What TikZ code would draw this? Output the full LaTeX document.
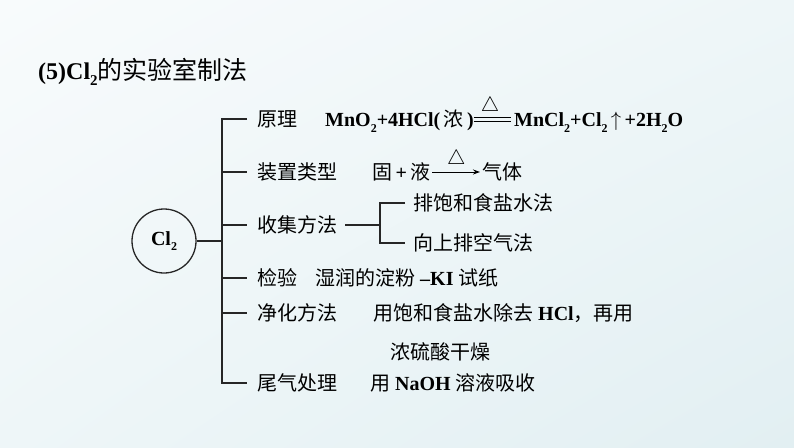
\documentclass[tikz,border=0pt]{standalone}
\usepackage{fontspec}
\setmainfont{Liberation Serif}
\newfontfamily\cjk{Noto Sans CJK SC}
\usetikzlibrary{arrows.meta,shadings}
\def\zh#1{{\cjk\mdseries #1}}
\def\sub#1{\raisebox{-0.28em}{\fontsize{12}{12}\selectfont #1}}
\definecolor{bgA}{RGB}{248,251,252}
\definecolor{bgB}{RGB}{238,246,248}
\definecolor{bgC}{RGB}{226,239,242}

\begin{document}
\begin{tikzpicture}[x=1pt, y=-1pt,
  line/.style={line width=1.3pt, draw=black!85},
  lbl/.style={anchor=west, inner sep=0pt, text height=17pt, text depth=2pt,
    font=\fontsize{20}{24}\selectfont\bfseries}]
		%%%%% START %%%%%
		
		\useasboundingbox (0,0) rectangle (794,447);
		\shade[upper left=bgA, upper right=bgB, lower left=bgB, lower right=bgC] (0,0) rectangle (794,447);
		
		\node[anchor=west, inner sep=0pt, font=\fontsize{24}{28}\selectfont\bfseries] (title) at (38,72)
			{(5)Cl\raisebox{-0.25em}{\fontsize{15}{15}\selectfont 2}\zh{\fontsize{25}{28}\selectfont 的实验室制法}};
		
		\node[circle, line, minimum size=64pt, inner sep=0pt, font=\fontsize{20}{24}\selectfont\bfseries] (cl) at (164,241) {Cl\sub{2}};
		\coordinate (spine) at (222,0);
		
		% principle
		\node[lbl] (yl) at (257,119) {\zh{原理}};
		\node[lbl] (eqL) at (325,119) {MnO\sub{2}+4HCl(\,\zh{浓}\,)};
		\node[lbl] (eqR) at (514,119) {MnCl\sub{2}+Cl\sub{2}\,$\uparrow$\,+2H\sub{2}O};
		\draw[line width=1pt, shorten >=3pt] ([yshift=2pt]eqL.east) -- ([yshift=2pt]eqR.west);
		\draw[line width=1pt, shorten >=3pt] ([yshift=-2pt]eqL.east) -- ([yshift=-2pt]eqR.west);
		\node[inner sep=0pt, font=\fontsize{20}{22}\selectfont] (heatA) at (490,106) {$\triangle$};
		
		% apparatus
		\node[lbl] (zz) at (257,172) {\zh{装置类型}};
		\node[lbl] (gy) at (372,172) {\zh{固}\,+\,\zh{液}};
		\node[lbl] (qt) at (482,172) {\zh{气体}};
		\draw[line width=1pt, -{Stealth[length=7pt, width=5pt]}] ([xshift=2pt]gy.east) -- ([xshift=-2pt]qt.west)
			node[midway, above=3pt, inner sep=0pt, font=\fontsize{20}{22}\selectfont] (heatB) {$\triangle$};
		
		% collection
		\node[lbl] (sj) at (257,225) {\zh{收集方法}};
		\coordinate (fork) at (380,225);
		\node[lbl] (pb) at (413,203) {\zh{排饱和食盐水法}};
		\node[lbl] (xs) at (413,243) {\zh{向上排空气法}};
		\draw[line] ([xshift=8pt]sj.east) -- (fork);
		\draw[line] ([xshift=-8pt]pb.west) -| (fork) |- ([xshift=-8pt]xs.west);
		
		% test
		\node[lbl] (jy) at (257,278) {\zh{检验}};
		\node[lbl] (sr) at (315,278) {\zh{湿润的淀粉} --KI \zh{试纸}};
		
		% purification
		\node[lbl] (jh) at (257,313) {\zh{净化方法}};
		\node[lbl] (jhA) at (373,313) {\zh{用饱和食盐水除去} HCl\zh{，再用}};
		\node[lbl] (jhB) at (390,352) {\zh{浓硫酸干燥}};
		
		% tail gas
		\node[lbl] (wq) at (257,383) {\zh{尾气处理}};
		\node[lbl] (wqA) at (370,383) {\zh{用} NaOH \zh{溶液吸收}};
		
		\draw[line] ([xshift=-10pt]yl.west) -- (yl.west -| spine) -- (wq.west -| spine) -- ([xshift=-10pt]wq.west);
		\foreach \n in {zz,sj,jy,jh}
			\draw[line] (\n.west -| spine) -- ([xshift=-10pt]\n.west);
		\draw[line] (cl) -- (cl -| spine);
		
		%%%%% END %%%%%
\end{tikzpicture}
\end{document}
